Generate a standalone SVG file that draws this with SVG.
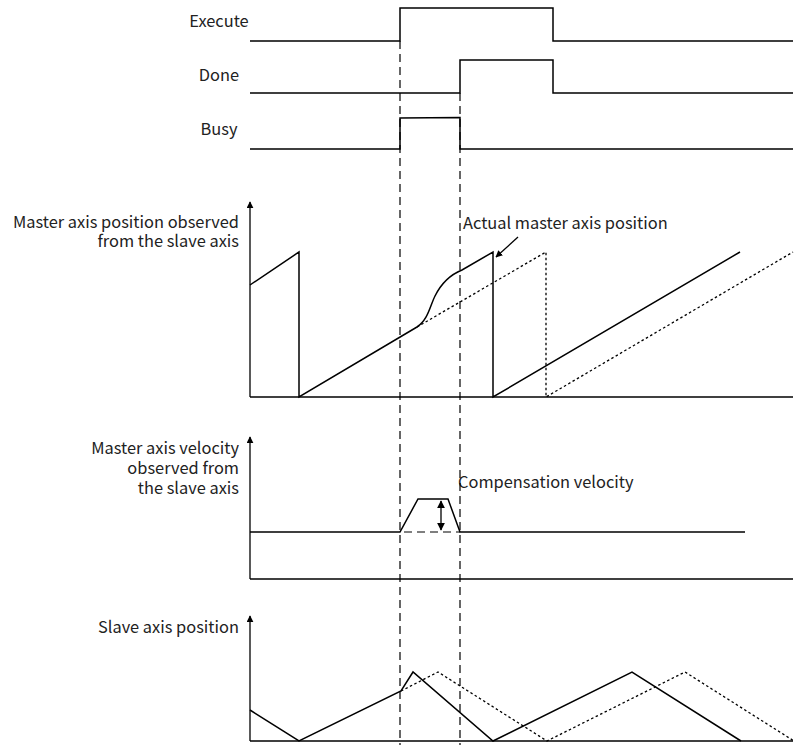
<svg xmlns="http://www.w3.org/2000/svg" width="801" height="745" viewBox="0 0 801 745">
<defs>
<style>
.t{font-family:"Noto Sans CJK SC","Noto Sans",sans-serif;font-size:16.4px;fill:#222}
.s{fill:none;stroke:#000;stroke-width:1.5;stroke-linejoin:miter}
.d{fill:none;stroke:#000;stroke-width:1.2;stroke-dasharray:8 5}
.o{fill:none;stroke:#000;stroke-width:1.3;stroke-dasharray:2.5 2.5}
.ax{fill:none;stroke:#000;stroke-width:1.3}
</style>
<marker id="ah" viewBox="0 0 10 10" refX="9" refY="5" markerWidth="7" markerHeight="7" markerUnits="userSpaceOnUse" orient="auto"><path d="M0,0 L10,5 L0,10 z" fill="#000"/></marker>
<marker id="ahs" viewBox="0 0 10 10" refX="9" refY="5" markerWidth="8" markerHeight="8" markerUnits="userSpaceOnUse" orient="auto-start-reverse"><path d="M0,0 L10,5 L0,10 z" fill="#000"/></marker>
</defs>
<rect width="801" height="745" fill="#fff"/>

<g id="signals">
<g id="execute"><text class="t" x="219" y="27" text-anchor="middle">Execute</text><path class="s" d="M250,41 H400 V8 H553 V41 H793"/></g>
<g id="done"><text class="t" x="219" y="81" text-anchor="middle">Done</text><path class="s" d="M250,93 H460 V60 H553 V93 H793"/></g>
<g id="busy"><text class="t" x="219" y="135" text-anchor="middle">Busy</text><path class="s" d="M250,149 H400 V118 L460,117.5 V149 H793"/></g>
</g>

<g id="master-position">
<text class="t" x="239" y="228" text-anchor="end">Master axis position observed</text>
<text class="t" x="239" y="247" text-anchor="end">from the slave axis</text>
<path class="ax" d="M250,397 V202" marker-end="url(#ah)"/>
<path class="ax" d="M250,397 H793"/>
<path class="s" d="M250,285 L299,252 V397 L417,327 C428,320 430,306 435,296 C442,282 452,274 462,270 L493,252 V397 L740,252"/>
<path class="o" d="M417,327 L546,252 V397 L793,252"/>
<text class="t" x="463" y="229">Actual master axis position</text>
<path class="ax" d="M518,237 L496,257" marker-end="url(#ah)"/>
</g>

<g id="master-velocity">
<text class="t" x="239" y="454" text-anchor="end">Master axis velocity</text>
<text class="t" x="239" y="474" text-anchor="end">observed from</text>
<text class="t" x="239" y="494" text-anchor="end">the slave axis</text>
<path class="ax" d="M250,579 V437" marker-end="url(#ah)"/>
<path class="ax" d="M250,579 H793"/>
<path class="s" d="M250,532 H400 L418,499 H448 L460,532 H745"/>
<path class="d" d="M404,532 H460"/>
<path class="ax" d="M441,501 V530" marker-start="url(#ahs)" marker-end="url(#ahs)"/>
<text class="t" x="458" y="488">Compensation velocity</text>
</g>

<g id="slave-position">
<text class="t" x="239" y="633" text-anchor="end">Slave axis position</text>
<path class="ax" d="M250,741 V616" marker-end="url(#ah)"/>
<path class="ax" d="M250,741 H793"/>
<path class="s" d="M250,710 L299,741 L401,691 L413,672 L493,741 L632,672 L741,741"/>
<path class="o" d="M401,691 L438,672 L547,741 L685,672 L794,741"/>
</g>

<g id="connectors">
<path class="d" d="M400,41 V745"/>
<path class="d" d="M460,93 V745"/>
</g>
</svg>
